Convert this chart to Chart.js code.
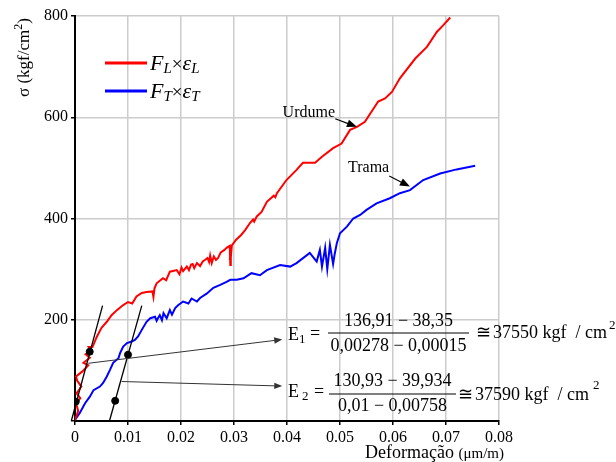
<!DOCTYPE html>
<html>
<head>
<meta charset="utf-8">
<script src="https://cdn.jsdelivr.net/npm/chart.js@4.4.0/dist/chart.umd.min.js"></script>
<style>
  body { margin: 0; background: #fff; }
</style>
</head>
<body>
<canvas id="modulusChart" width="616" height="462"></canvas>
<script>
// Urdume (warp) curve: strain and stress (kgf/cm2)
var urdumeStrain = [0, 0.0006, 0.0002, 0.0010, 0.0003, 0.0012, 0.0004, 0.0002, 0.0014, 0.0025, 0.0016, 0.0028, 0.0020,
  0.0030, 0.0026, 0.0033, 0.0041, 0.0050, 0.0060, 0.0069, 0.0079, 0.0091, 0.0100, 0.0108, 0.0116, 0.0126, 0.0135,
  0.0146, 0.0148, 0.0150, 0.0154, 0.0166, 0.0172, 0.0179, 0.0192, 0.0197, 0.0201, 0.0204, 0.0211, 0.0215, 0.0219,
  0.0222, 0.0225, 0.0230, 0.0236, 0.0241, 0.0245, 0.0250, 0.0253, 0.0255, 0.0258, 0.0262, 0.0266, 0.0270, 0.0275,
  0.0282, 0.0286, 0.0292, 0.0293, 0.0294, 0.0292, 0.0294, 0.0293, 0.0296, 0.0304, 0.0313, 0.0321, 0.0330, 0.0336,
  0.0338, 0.0343, 0.0352, 0.0362, 0.0375, 0.0378, 0.0381, 0.0399, 0.0418, 0.0430, 0.0453, 0.0466, 0.0487, 0.0503,
  0.0519, 0.0532, 0.0547, 0.0572, 0.0585, 0.0598, 0.0613, 0.0642, 0.0664, 0.0683, 0.0695, 0.0708];
var urdumeStress = [2, 20, 35, 45, 55, 68, 80, 88, 98, 110, 115, 125, 132,
  140, 146, 146, 166, 184, 196, 209, 219, 229, 235, 232, 246, 253, 255,
  256, 245, 262, 272, 282, 278, 295, 298, 290, 303, 296, 305, 298, 309,
  310, 302, 312, 306, 315, 318, 322, 314, 327, 312, 325, 318, 322, 333,
  338, 342, 346, 308, 340, 318, 335, 312, 347, 358, 367, 377, 391, 398,
  394, 404, 413, 433, 445, 442, 450, 476, 496, 510, 510, 522, 539, 548,
  575, 581, 591, 631, 637, 650, 677, 716, 739, 769, 782, 797];

// Trama (weft) curve
var tramaStrain = [0, 0.0009, 0.0019, 0.0028, 0.0035, 0.0047, 0.0053, 0.0060, 0.0066, 0.0072, 0.0082, 0.0085, 0.0091,
  0.0098, 0.0107, 0.0113, 0.0119, 0.0126, 0.0135, 0.0142, 0.0151, 0.0154, 0.0157, 0.0160, 0.0164, 0.0167, 0.0173,
  0.0179, 0.0183, 0.0189, 0.0195, 0.0204, 0.0214, 0.0220, 0.0230, 0.0236, 0.0249, 0.0261, 0.0274, 0.0286, 0.0293,
  0.0305, 0.0318, 0.0333, 0.0349, 0.0362, 0.0387, 0.0406, 0.0418, 0.0443, 0.0456, 0.0462, 0.0466, 0.0472, 0.0476,
  0.0481, 0.0487, 0.0490, 0.0494, 0.0500, 0.0513, 0.0525, 0.0538, 0.0550, 0.0569, 0.0594, 0.0613, 0.0632, 0.0657,
  0.0689, 0.0720, 0.0755];
var tramaStress = [2, 16, 35, 48, 61, 68, 75, 88, 101, 115, 124, 134, 147,
  154, 157, 160, 167, 180, 196, 203, 206, 198, 204, 209, 199, 213, 203,
  219, 210, 223, 229, 236, 232, 242, 236, 243, 252, 263, 269, 275, 279,
  279, 282, 292, 288, 298, 308, 305, 312, 332, 315, 338, 305, 342, 300,
  348, 310, 330, 351, 371, 384, 400, 407, 417, 430, 440, 450, 456, 476,
  489, 497, 504];

// tangent lines through the points chosen for E1 and E2
var tangentE1Strain = [-0.0007, 0.0052];
var tangentE1Stress = [0, 228];
var tangentE2Strain = [0.0065, 0.0126];
var tangentE2Stress = [0, 228];
var pickStrain = [0.00015, 0.00278, 0.00758, 0.01];
var pickStress = [38.35, 136.91, 39.934, 130.93];

var xTicks = [0, 0.01, 0.02, 0.03, 0.04, 0.05, 0.06, 0.07, 0.08];
var xTickLabels = ['0', '0.01', '0.02', '0.03', '0.04', '0.05', '0.06', '0.07', '0.08'];
var yTicks = [0, 200, 400, 600, 800];
var yTickLabels = ['', '200', '400', '600', '800'];

// callout arrows [strain, stress]
var arrowE1 = [[0.0025, 114], [0.0391, 161]];
var arrowE2 = [[0.0088, 78], [0.0391, 69]];
var arrowUrdume = [[0.0491, 597], [0.0532, 581]];
var arrowTrama = [[0.0593, 484], [0.0632, 463]];

var SERIF = "'Liberation Serif', 'DejaVu Serif', serif";

function pairs(xs, ys) {
  return xs.map(function (x, i) { return { x: x, y: ys[i] }; });
}

function drawArrow(ctx, a, b, head, width, color) {
  var ang = Math.atan2(b[1] - a[1], b[0] - a[0]);
  ctx.save();
  ctx.strokeStyle = color;
  ctx.fillStyle = color;
  ctx.lineWidth = width;
  ctx.beginPath();
  ctx.moveTo(a[0], a[1]);
  ctx.lineTo(b[0] - Math.cos(ang) * head * 0.8, b[1] - Math.sin(ang) * head * 0.8);
  ctx.stroke();
  ctx.beginPath();
  ctx.moveTo(b[0], b[1]);
  ctx.lineTo(b[0] - head * Math.cos(ang) + head * 0.4 * Math.sin(ang), b[1] - head * Math.sin(ang) - head * 0.4 * Math.cos(ang));
  ctx.lineTo(b[0] - head * Math.cos(ang) - head * 0.4 * Math.sin(ang), b[1] - head * Math.sin(ang) + head * 0.4 * Math.cos(ang));
  ctx.closePath();
  ctx.fill();
  ctx.restore();
}

// draws text pieces one after another, each with its own font and vertical shift
function drawRuns(ctx, x, y, parts) {
  parts.forEach(function (p) {
    ctx.font = p.f;
    ctx.fillText(p.t, x, y + (p.dy || 0));
    x += ctx.measureText(p.t).width + (p.gap || 0);
  });
  return x;
}

function drawFraction(ctx, x0, x1, barY, num, den, numBase, denBase) {
  ctx.beginPath();
  ctx.moveTo(x0, barY);
  ctx.lineTo(x1, barY);
  ctx.lineWidth = 1;
  ctx.strokeStyle = '#000';
  ctx.stroke();
  ctx.font = '18px ' + SERIF;
  ctx.textAlign = 'center';
  ctx.fillText(num, (x0 + x1) / 2, numBase);
  ctx.fillText(den, (x0 + x1) / 2, denBase);
  ctx.textAlign = 'left';
}

var overlay = {
  id: 'overlay',
  afterDatasetsDraw: function (chart) {
    var ctx = chart.ctx;
    var xs = chart.scales.x, ys = chart.scales.y;
    function P(p) { return [xs.getPixelForValue(p[0]), ys.getPixelForValue(p[1])]; }

    drawArrow(ctx, P(arrowE1[0]), P(arrowE1[1]), 8, 1, '#333');
    drawArrow(ctx, P(arrowE2[0]), P(arrowE2[1]), 8, 1, '#333');
    drawArrow(ctx, P(arrowUrdume[0]), P(arrowUrdume[1]), 10, 1.2, '#000');
    drawArrow(ctx, P(arrowTrama[0]), P(arrowTrama[1]), 10, 1.2, '#000');

    ctx.save();
    ctx.fillStyle = '#000';
    ctx.textBaseline = 'alphabetic';

    // curve names
    ctx.font = '16px ' + SERIF;
    ctx.textAlign = 'right';
    ctx.fillText('Urdume', 335, 117);
    ctx.textAlign = 'left';
    ctx.fillText('Trama', 348, 172);

    // legend
    ctx.lineWidth = 3;
    ctx.strokeStyle = '#ff0000';
    ctx.beginPath(); ctx.moveTo(105, 63); ctx.lineTo(147, 63); ctx.stroke();
    ctx.strokeStyle = '#0000ff';
    ctx.beginPath(); ctx.moveTo(105, 91); ctx.lineTo(147, 91); ctx.stroke();
    var it = 'italic 22px ' + SERIF, sub = 'italic 15px ' + SERIF, up = '19px ' + SERIF;
    drawRuns(ctx, 150, 70, [{ t: 'F', f: it }, { t: 'L', f: sub, dy: 3 }, { t: '\u00d7', f: up }, { t: '\u03b5', f: it }, { t: 'L', f: sub, dy: 3 }]);
    drawRuns(ctx, 150, 98, [{ t: 'F', f: it }, { t: 'T', f: sub, dy: 3 }, { t: '\u00d7', f: up }, { t: '\u03b5', f: it }, { t: 'T', f: sub, dy: 3 }]);

    // elastic modulus, warp
    var f18 = '18px ' + SERIF, f13 = '13px ' + SERIF;
    drawRuns(ctx, 288, 340, [{ t: 'E', f: f18 }, { t: '1', f: f13, dy: 3 }]);
    ctx.font = f18;
    ctx.fillText('=', 310, 339);
    drawFraction(ctx, 328, 469, 333, '136,91 \u2212 38,35', '0,00278 \u2212 0,00015', 326, 351);
    drawRuns(ctx, 476, 338, [{ t: '\u2245', f: f18, gap: 2 }, { t: '37550 kgf  / cm', f: f18, gap: 2 }, { t: '2', f: f13, dy: -9 }]);

    // elastic modulus, weft
    drawRuns(ctx, 288, 397, [{ t: 'E', f: f18, gap: 3 }, { t: '2', f: f13, dy: 3 }]);
    ctx.font = f18;
    ctx.fillText('=', 314, 397);
    drawFraction(ctx, 329, 456, 394, '130,93 \u2212 39,934', '0,01 \u2212 0,00758', 386, 411);
    drawRuns(ctx, 458, 400, [{ t: '\u2245', f: f18, gap: 2 }, { t: '37590 kgf  / cm', f: f18, gap: 4 }, { t: '2', f: f13, dy: -11 }]);

    // axis titles
    drawRuns(ctx, 365, 458, [{ t: 'Deformação ', f: '18px ' + SERIF }, { t: '(\u03bcm/m)', f: '15px ' + SERIF }]);
    ctx.translate(29, 97);
    ctx.rotate(-Math.PI / 2);
    drawRuns(ctx, 0, 0, [{ t: '\u03c3 (kgf/cm', f: '17px ' + SERIF }, { t: '2', f: '12px ' + SERIF, dy: -7 }, { t: ')', f: '17px ' + SERIF }]);
    ctx.restore();
  }
};

var ctx = document.getElementById('modulusChart').getContext('2d');
var modulusChart = new Chart(ctx, {
  type: 'scatter',
  data: {
    datasets: [
      { data: pairs(pickStrain, pickStress), showLine: false, pointRadius: 3.5, pointBackgroundColor: '#000', pointBorderColor: '#000', order: 0 },
      { data: pairs(tangentE1Strain, tangentE1Stress), showLine: true, borderColor: '#000', borderWidth: 1.3, pointRadius: 0, clip: false, order: 1 },
      { data: pairs(tangentE2Strain, tangentE2Stress), showLine: true, borderColor: '#000', borderWidth: 1.3, pointRadius: 0, clip: false, order: 1 },
      { data: pairs(urdumeStrain, urdumeStress), showLine: true, borderColor: '#ff0000', borderWidth: 2, pointRadius: 0, order: 2 },
      { data: pairs(tramaStrain, tramaStress), showLine: true, borderColor: '#0000ff', borderWidth: 2, pointRadius: 0, order: 2 }
    ]
  },
  options: {
    responsive: false,
    animation: false,
    devicePixelRatio: 1,
    layout: { padding: { left: 0, right: 117, top: 16, bottom: 0 } },
    plugins: { legend: { display: false }, tooltip: { enabled: false } },
    scales: {
      x: {
        type: 'linear', min: 0, max: 0.08,
        afterBuildTicks: function (s) { s.ticks = xTicks.map(function (v) { return { value: v }; }); },
        afterFit: function (s) { s.height = 41; },
        ticks: {
          callback: function (v, i) { return xTickLabels[i]; },
          color: '#000', font: { family: SERIF, size: 16 }, padding: 3, maxRotation: 0, autoSkip: false
        },
        grid: { color: '#cccccc', lineWidth: 1.5, tickColor: '#000', tickLength: 4 },
        border: { color: '#000', width: 2 }
      },
      y: {
        type: 'linear', min: 0, max: 800,
        afterBuildTicks: function (s) { s.ticks = yTicks.map(function (v) { return { value: v }; }); },
        afterFit: function (s) { s.width = 75; },
        ticks: {
          callback: function (v, i) { return yTickLabels[i]; },
          color: '#000', font: { family: SERIF, size: 16 }, padding: 3, autoSkip: false
        },
        grid: { color: '#cccccc', lineWidth: 1.5, tickColor: '#000', tickLength: 4 },
        border: { color: '#000', width: 2 }
      }
    }
  },
  plugins: [overlay]
});
</script>
</body>
</html>
